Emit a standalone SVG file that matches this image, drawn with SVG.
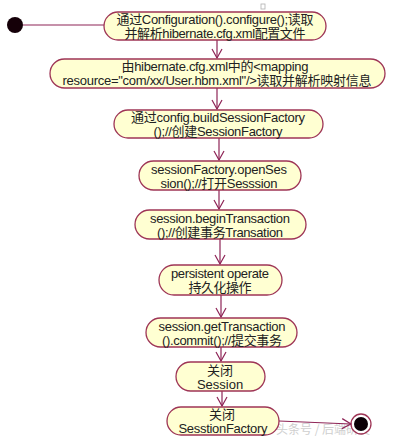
<svg xmlns="http://www.w3.org/2000/svg" width="403" height="436" viewBox="0 0 403 436">
<defs>
<style>
.node rect{fill:#FFFFD2;stroke:#9E3556;stroke-width:1.3}
.node text{font-family:"Liberation Sans","Noto Sans CJK SC",Arial,sans-serif;font-size:13px;fill:#222;text-anchor:middle}
.conn line{stroke:#8E2456;stroke-width:1.2;fill:none}
</style>
<marker id="arr" markerWidth="12" markerHeight="12" refX="10" refY="6" orient="auto" markerUnits="userSpaceOnUse">
<path d="M1,1 L10,6 L1,11" fill="none" stroke="#8E2456" stroke-width="1.2"/>
</marker>
</defs>
<rect width="403" height="436" fill="#ffffff"/>
<rect x="261" y="4" width="4" height="5" fill="#fff" stroke="#b0b0b0" stroke-width="0.8"/>
<text x="276" y="434" font-family="'Noto Sans CJK SC',sans-serif" font-size="12" fill="#cfcfcf">头条号 / 后端研发</text>

<g id="start"><circle cx="15" cy="25" r="8" fill="#150008"/></g>
<g id="end"><circle cx="361" cy="424" r="10" fill="#fff" stroke="#9E3556" stroke-width="1.3"/><circle cx="361" cy="424" r="7" fill="#0a0006"/></g>

<g class="conn" id="connectors">
<line x1="23" y1="25" x2="120" y2="25" marker-end="url(#arr)"/>
<line x1="217" y1="40" x2="217" y2="58" marker-end="url(#arr)"/>
<line x1="217" y1="88" x2="217" y2="109" marker-end="url(#arr)"/>
<line x1="219" y1="138" x2="219" y2="160" marker-end="url(#arr)"/>
<line x1="219" y1="190" x2="219" y2="209" marker-end="url(#arr)"/>
<line x1="220" y1="239" x2="220" y2="264" marker-end="url(#arr)"/>
<line x1="221" y1="295" x2="221" y2="317" marker-end="url(#arr)"/>
<line x1="221" y1="347" x2="221" y2="361" marker-end="url(#arr)"/>
<line x1="222" y1="391" x2="222" y2="406" marker-end="url(#arr)"/>
<line x1="279" y1="421" x2="351" y2="424" marker-end="url(#arr)"/>
</g>

<g class="node" id="n1"><rect x="104" y="12" width="222" height="28" rx="14"/>
<text x="215" y="24" textLength="197">通过Configuration().configure();读取</text>
<text x="215" y="38" textLength="181">并解析hibernate.cfg.xml配置文件</text></g>

<g class="node" id="n2"><rect x="50" y="59" width="335" height="29" rx="14.5"/>
<text x="215" y="71" textLength="187">由hibernate.cfg.xml中的&lt;mapping</text>
<text x="217" y="85" textLength="309">resource="com/xx/User.hbm.xml"/&gt;读取并解析映射信息</text></g>

<g class="node" id="n3"><rect x="114" y="110" width="209" height="28" rx="14"/>
<text x="218" y="122" textLength="174">通过config.buildSessionFactory</text>
<text x="218" y="136" textLength="129">();//创建SessionFactory</text></g>

<g class="node" id="n4"><rect x="139" y="161" width="162" height="29" rx="14.5"/>
<text x="219" y="174" textLength="136">sessionFactory.openSes</text>
<text x="219" y="188" textLength="117">sion();//打开Sesssion</text></g>

<g class="node" id="n5"><rect x="135" y="210" width="171" height="29" rx="14.5"/>
<text x="220" y="223" textLength="140">session.beginTransaction</text>
<text x="220" y="237" textLength="126">();//创建事务Transation</text></g>

<g class="node" id="n6"><rect x="159" y="265" width="123" height="30" rx="15"/>
<text x="220" y="278" textLength="98">persistent operate</text>
<text x="220" y="292" textLength="63">持久化操作</text></g>

<g class="node" id="n7"><rect x="146" y="318" width="151" height="29" rx="14.5"/>
<text x="222" y="331" textLength="127">session.getTransaction</text>
<text x="222" y="345" textLength="120">().commit();//提交事务</text></g>

<g class="node" id="n8"><rect x="176" y="362" width="89" height="29" rx="14.5"/>
<text x="220" y="375">关闭</text>
<text x="220" y="389">Session</text></g>

<g class="node" id="n9"><rect x="167" y="407" width="112" height="28" rx="14"/>
<text x="222" y="419">关闭</text>
<text x="223" y="433" textLength="89">SesstionFactory</text></g>
</svg>
